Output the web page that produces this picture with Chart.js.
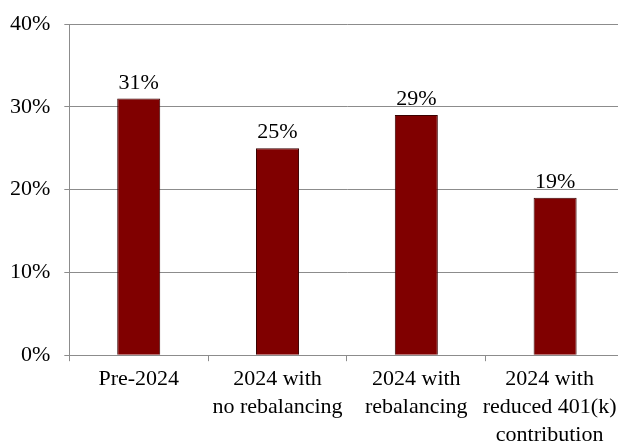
<!DOCTYPE html>
<html>
<head>
<meta charset="utf-8">
<script src="https://cdn.jsdelivr.net/npm/chart.js@4/dist/chart.umd.min.js"></script>
<style>
html,body{margin:0;padding:0;overflow:hidden;background:#fff;width:618px;height:443px;}
#wrap{position:absolute;left:0;top:0;width:632px;height:453px;}
</style>
</head>
<body>
<div id="wrap"><canvas id="c" width="632" height="453"></canvas></div>
<script>
const categories = [
  ["Pre-2024"],
  ["2024 with", "no rebalancing"],
  ["2024 with", "rebalancing"],
  ["2024 with", "reduced 401(k)", "contribution"]
];
const values = [31, 25, 29, 19];
const yTicks = [0, 10, 20, 30, 40];

const FONT = "'Liberation Serif', 'Times New Roman', serif";

const dataLabels = {
  id: 'dataLabels',
  afterDatasetsDraw(chart) {
    const ctx = chart.ctx;
    const meta = chart.getDatasetMeta(0);
    ctx.save();
    ctx.font = "22px " + FONT;
    ctx.fillStyle = "#000";
    ctx.textAlign = "center";
    ctx.textBaseline = "alphabetic";
    meta.data.forEach((bar, i) => {
      ctx.fillText(values[i] + "%", bar.x, bar.y - 10);
    });
    ctx.restore();
  }
};

new Chart(document.getElementById('c'), {
  type: 'bar',
  data: {
    labels: categories,
    datasets: [{
      data: values,
      backgroundColor: '#800000',
      borderColor: '#3a0000',
      borderWidth: 1,
      barPercentage: 0.31,
      categoryPercentage: 1.0
    }]
  },
  options: {
    responsive: false,
    animation: false,
    devicePixelRatio: 1,
    layout: { padding: { top: 24, right: 4, left: -4, bottom: 0 } },
    plugins: { legend: { display: false }, tooltip: { enabled: false } },
    scales: {
      y: {
        min: 0, max: 40,
        afterBuildTicks(axis) { axis.ticks = yTicks.map(v => ({ value: v })); },
        afterFit(axis) { axis.paddingTop = 0; axis.paddingBottom = 0; },
        ticks: {
          callback: v => v + "%",
          font: { family: FONT, size: 22 },
          color: "#000",
          padding: 14
        },
        grid: { color: "#8c8c8c", lineWidth: 1, tickLength: 5, drawTicks: true },
        border: { color: "#8c8c8c", width: 1 }
      },
      x: {
        ticks: {
          // last category label is nudged left (as in the original) so it stays inside the frame
          callback: (v, i) => i === categories.length - 1
            ? categories[i].map(s => s + "\u2002")
            : categories[i],
          font: { family: FONT, size: 22, lineHeight: 1.27 },
          color: "#000",
          padding: 4,
          maxRotation: 0,
          autoSkip: false
        },
        grid: { offset: true, drawOnChartArea: false, color: "#8c8c8c", tickLength: 6 },
        border: { color: "#8c8c8c", width: 1 }
      }
    }
  },
  plugins: [dataLabels]
});
</script>
</body>
</html>
